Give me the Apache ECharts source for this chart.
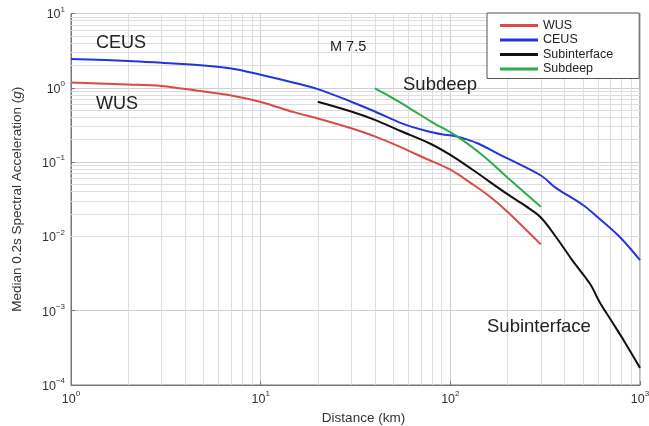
<!DOCTYPE html>
<html><head><meta charset="utf-8">
<script src="https://cdn.jsdelivr.net/npm/echarts@6/dist/echarts.min.js"></script>
<style>html,body{margin:0;padding:0;background:#fff}#c{width:649px;height:426px}</style>
</head><body><div id="c"></div>
<script>
// Data (distance km, median 0.2s SA in g)
const wusX = [1, 2, 3, 5, 7, 10, 15, 20, 30, 40, 55, 75, 100, 130, 160, 200, 300];
const wusY = [1.18, 1.11, 1.06, 0.89, 0.79, 0.645, 0.47, 0.386, 0.285, 0.222, 0.158, 0.11, 0.079, 0.051, 0.035, 0.0215, 0.0078];
const ceusX = [1, 2, 3, 5, 7, 10, 15, 20, 30, 40, 55, 75, 90, 105, 120, 140, 180, 200, 300, 360, 500, 590, 780, 1000];
const ceusY = [2.45, 2.3, 2.17, 2.0, 1.82, 1.5, 1.17, 0.96, 0.65, 0.48, 0.335, 0.262, 0.237, 0.224, 0.205, 0.178, 0.128, 0.112, 0.066, 0.045, 0.0265, 0.0187, 0.0099, 0.0048];
const subintX = [20, 30, 40, 55, 78, 100, 130, 200, 250, 300, 363, 444, 545, 613, 712, 830, 1000];
const subintY = [0.65, 0.48, 0.37, 0.26, 0.178, 0.125, 0.08, 0.037, 0.0255, 0.018, 0.0096, 0.0046, 0.0023, 0.0013, 0.00071, 0.00038, 0.00017];
const subdeepX = [40, 50, 61, 80, 108, 150, 200, 300];
const subdeepY = [0.98, 0.72, 0.53, 0.346, 0.224, 0.12, 0.062, 0.025];
const seriesNames = ['WUS', 'CEUS', 'Subinterface', 'Subdeep'];
const xMinor = [2,3,4,5,6,7,8,9,20,30,40,50,60,70,80,90,200,300,400,500,600,700,800,900];
const yMinor = [];
[1e-4,1e-3,1e-2,1e-1,1].forEach(d => { for (let k = 2; k <= 9; k++) yMinor.push(+(d * k).toPrecision(3)); });

const zip = (xs, ys) => xs.map((x, i) => [x, ys[i]]);
const colors = ['#dc4a46', '#2236e0', '#111111', '#2eaa48'];
const font = 'Liberation Sans, Arial, Helvetica, sans-serif';

function supFmt(v) {
  const e = Math.round(Math.log10(v));
  return '{b|10}{s|' + (e < 0 ? '\u2212' + (-e) : e) + '}';
}
const rich = {
  b: { fontSize: 12.5, color: '#333', fontFamily: font, verticalAlign: 'bottom', lineHeight: 16 },
  s: { fontSize: 8, color: '#333', fontFamily: font, verticalAlign: 'top', lineHeight: 16 }
};

const chart = echarts.init(document.getElementById('c'));
const option = {
  animation: false,
  textStyle: { fontFamily: font },
  grid: { left: 71, right: 9, top: 13.5, bottom: 41, outerBoundsMode: 'none', containLabel: false, show: true, borderColor: '#777', borderWidth: 1, backgroundColor: '#fff' },
  legend: {
    data: seriesNames, orient: 'vertical', left: 487, top: 13,
    padding: [6, 26, 3, 13], itemGap: 1.5,
    icon: 'rect', itemWidth: 38, itemHeight: 3,
    borderColor: '#555', borderWidth: 1, backgroundColor: '#fff',
    textStyle: { fontSize: 12.5, color: '#222', fontFamily: font }
  },
  xAxis: {
    type: 'log', logBase: 10, min: 1, max: 1000,
    name: 'Distance (km)', nameLocation: 'middle', nameGap: 19,
    nameTextStyle: { fontSize: 13.5, color: '#333', fontFamily: font, padding: [0, 0, 0, 16] },
    axisLine: { lineStyle: { color: '#777' } },
    axisTick: { inside: true, length: 4, lineStyle: { color: '#777' } },
    axisLabel: { formatter: supFmt, rich: rich, margin: 5 },
    splitLine: { show: true, lineStyle: { color: '#cfcfcf', width: 1 } }
  },
  yAxis: {
    type: 'log', logBase: 10, min: 1e-4, max: 10,
    name: '{a|Median 0.2s Spectral Acceleration (}{i|g}{a|)}', nameLocation: 'middle', nameGap: 47,
    nameTextStyle: { rich: { a: { fontSize: 13.5, color: '#333', fontFamily: font }, i: { fontSize: 13.5, color: '#333', fontStyle: 'italic', fontFamily: font } } },
    axisLine: { lineStyle: { color: '#777' } },
    axisTick: { inside: true, length: 4, lineStyle: { color: '#777' } },
    axisLabel: { formatter: supFmt, rich: rich, margin: 6 },
    splitLine: { show: true, lineStyle: { color: '#cfcfcf', width: 1 } }
  },
  series: [
    {
      name: '_grid', type: 'line', data: [], z: 1, silent: true,
      markLine: {
        z: 1, silent: true, symbol: 'none', animation: false, label: { show: false },
        lineStyle: { color: '#dedede', type: 'solid', width: 1 },
        data: xMinor.map(v => ({ xAxis: v })).concat(yMinor.map(v => ({ yAxis: v })))
      }
    },
    { name: 'WUS', type: 'line', data: zip(wusX, wusY), smooth: 0.35, showSymbol: false, z: 3, lineStyle: { color: colors[0], width: 2 }, itemStyle: { color: colors[0] } },
    { name: 'CEUS', type: 'line', data: zip(ceusX, ceusY), smooth: 0.35, showSymbol: false, z: 3, lineStyle: { color: colors[1], width: 2 }, itemStyle: { color: colors[1] } },
    { name: 'Subinterface', type: 'line', data: zip(subintX, subintY), smooth: 0.35, showSymbol: false, z: 3, lineStyle: { color: colors[2], width: 2 }, itemStyle: { color: colors[2] } },
    { name: 'Subdeep', type: 'line', data: zip(subdeepX, subdeepY), smooth: 0.35, showSymbol: false, z: 3, lineStyle: { color: colors[3], width: 2 }, itemStyle: { color: colors[3] } }
  ],
  graphic: [
    { type: 'text', left: 96, top: 34, z: 10, style: { text: 'CEUS', fontSize: 18, fill: '#222', fontFamily: font } },
    { type: 'text', left: 96, top: 95, z: 10, style: { text: 'WUS', fontSize: 18, fill: '#222', fontFamily: font } },
    { type: 'text', left: 330, top: 39, z: 10, style: { text: 'M 7.5', fontSize: 14.5, fill: '#222', fontFamily: font } },
    { type: 'text', left: 403, top: 75, z: 10, style: { text: 'Subdeep', fontSize: 18.5, fill: '#222', fontFamily: font } },
    { type: 'text', left: 487, top: 317, z: 10, style: { text: 'Subinterface', fontSize: 18.5, fill: '#222', fontFamily: font } }
  ]
};
chart.setOption(option);
</script></body></html>
